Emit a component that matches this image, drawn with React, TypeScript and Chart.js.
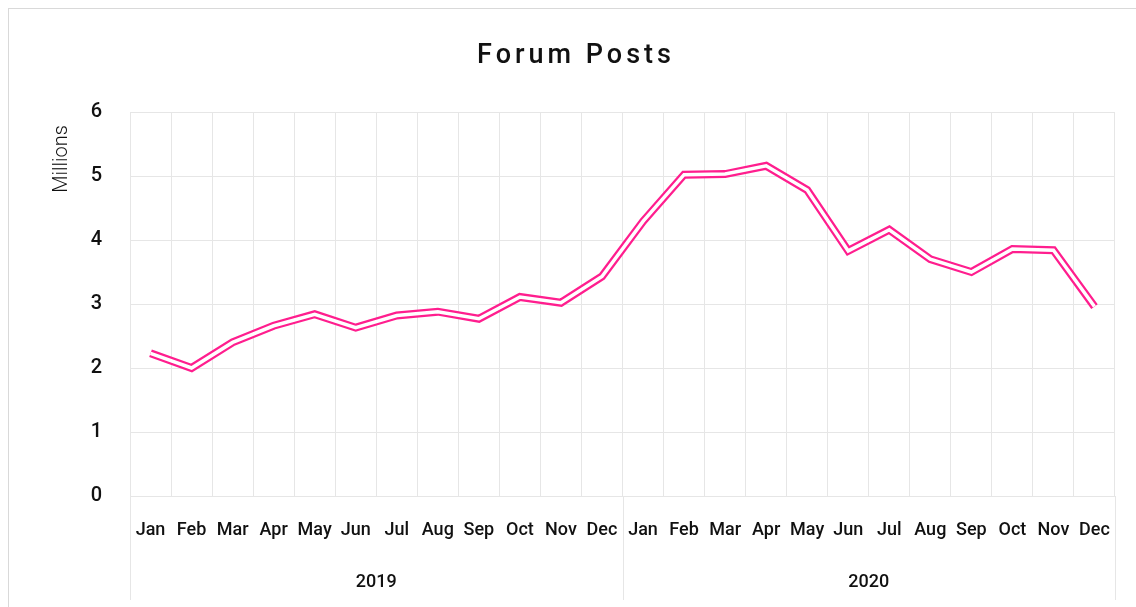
import React, { useEffect, useRef } from 'react';
import { Chart, registerables } from 'chart.js';

Chart.register(...registerables);

const months = ['Jan', 'Feb', 'Mar', 'Apr', 'May', 'Jun', 'Jul', 'Aug', 'Sep', 'Oct', 'Nov', 'Dec'];
const years = ['2019', '2020'];
const posts2019 = [2.23, 2.0, 2.4, 2.66, 2.84, 2.63, 2.82, 2.88, 2.77, 3.11, 3.02, 3.43];
const posts2020 = [4.29, 5.02, 5.03, 5.16, 4.78, 3.83, 4.16, 3.7, 3.5, 3.86, 3.84, 2.96];
const yTicks = [0, 1, 2, 3, 4, 5, 6];
const chartTitle = 'Forum Posts';
const yAxisTitle = 'Millions';

const FONT = "Roboto, 'Noto Sans', sans-serif";
const GRID = '#e6e6e6';
const PINK = '#ff1e8e';
const TEXT = '#111111';

export default function App() {
  const canvasRef = useRef<HTMLCanvasElement | null>(null);

  useEffect(() => {
    const canvas = canvasRef.current;
    if (!canvas) return;
    const labels = [...months, ...months];
    const values = [...posts2019, ...posts2020];

    const decor = {
      id: 'decor',
      afterDraw(chart: any) {
        const ctx = chart.ctx as CanvasRenderingContext2D;
        const xs = chart.scales.x;
        const area = chart.chartArea;
        ctx.save();
        // year dividers
        ctx.strokeStyle = GRID;
        ctx.lineWidth = 1;
        const n = labels.length;
        [-0.5, n / 2 - 0.5, n - 0.5].forEach((v) => {
          const px = Math.round(xs.getPixelForValue(v)) + 0.5;
          ctx.beginPath();
          ctx.moveTo(px, area.bottom);
          ctx.lineTo(px, area.bottom + 104);
          ctx.stroke();
        });
        // title
        ctx.fillStyle = TEXT;
        ctx.font = `500 27px ${FONT}`;
        (ctx as any).letterSpacing = '4px';
        ctx.textAlign = 'center';
        ctx.textBaseline = 'alphabetic';
        ctx.fillText(chartTitle, 567, 54);
        (ctx as any).letterSpacing = '0px';
        // y axis title
        ctx.translate(53, 150);
        ctx.rotate(-Math.PI / 2);
        ctx.font = `300 20px ${FONT}`;
        ctx.textAlign = 'center';
        ctx.textBaseline = 'middle';
        ctx.fillText(yAxisTitle, 0, 0);
        ctx.restore();
      },
    };

    const chart = new Chart(canvas, {
      type: 'line',
      data: {
        labels,
        datasets: [
          {
            label: 'inner',
            data: values,
            borderColor: '#ffffff',
            borderWidth: 3.5,
            pointRadius: 0,
            tension: 0,
            fill: false,
            borderJoinStyle: 'miter',
          },
          {
            label: 'Forum Posts',
            data: values,
            borderColor: PINK,
            borderWidth: 8,
            pointRadius: 0,
            tension: 0,
            fill: false,
            borderJoinStyle: 'miter',
          },
        ],
      },
      options: {
        animation: false,
        responsive: false,
        maintainAspectRatio: false,
        layout: { padding: { top: 103, left: 0, right: 21, bottom: 7 } },
        plugins: {
          legend: { display: false },
          tooltip: { enabled: false },
          title: { display: false },
        },
        scales: {
          x: {
            type: 'category',
            position: 'bottom',
            offset: true,
            grid: { offset: true, color: GRID, drawTicks: false, lineWidth: 1 },
            border: { display: true, color: GRID },
            ticks: {
              color: TEXT,
              font: { family: FONT, size: 18, weight: '500' },
              padding: 24,
              maxRotation: 0,
              autoSkip: false,
            },
            afterFit: (s: any) => {
              s.height = 52;
            },
          },
          x2: {
            type: 'category',
            position: 'bottom',
            labels: years,
            offset: true,
            grid: { display: false, drawTicks: false },
            border: { display: false },
            ticks: {
              color: TEXT,
              font: { family: FONT, size: 18, weight: '500' },
              padding: 24,
              maxRotation: 0,
            },
            afterFit: (s: any) => {
              s.height = 52;
            },
          },
          y: {
            min: yTicks[0],
            max: yTicks[yTicks.length - 1],
            grid: { color: GRID, drawTicks: false, lineWidth: 1 },
            border: { display: true, color: GRID },
            ticks: {
              stepSize: 1,
              color: TEXT,
              font: { family: FONT, size: 20, weight: '500' },
              padding: 28,
            },
            afterFit: (s: any) => {
              s.width = 121;
            },
          },
        },
      },
      plugins: [decor],
    } as any);

    return () => chart.destroy();
  }, []);

  return (
    <div
      style={{
        position: 'absolute',
        left: 8,
        top: 8,
        width: 1128,
        height: 599,
        borderTop: '1px solid #d9d9d9',
        borderLeft: '1px solid #d9d9d9',
        overflow: 'hidden',
        background: '#ffffff',
      }}
    >
      <canvas ref={canvasRef} width={1127} height={598} style={{ display: 'block', width: 1127, height: 598 }} />
    </div>
  );
}
